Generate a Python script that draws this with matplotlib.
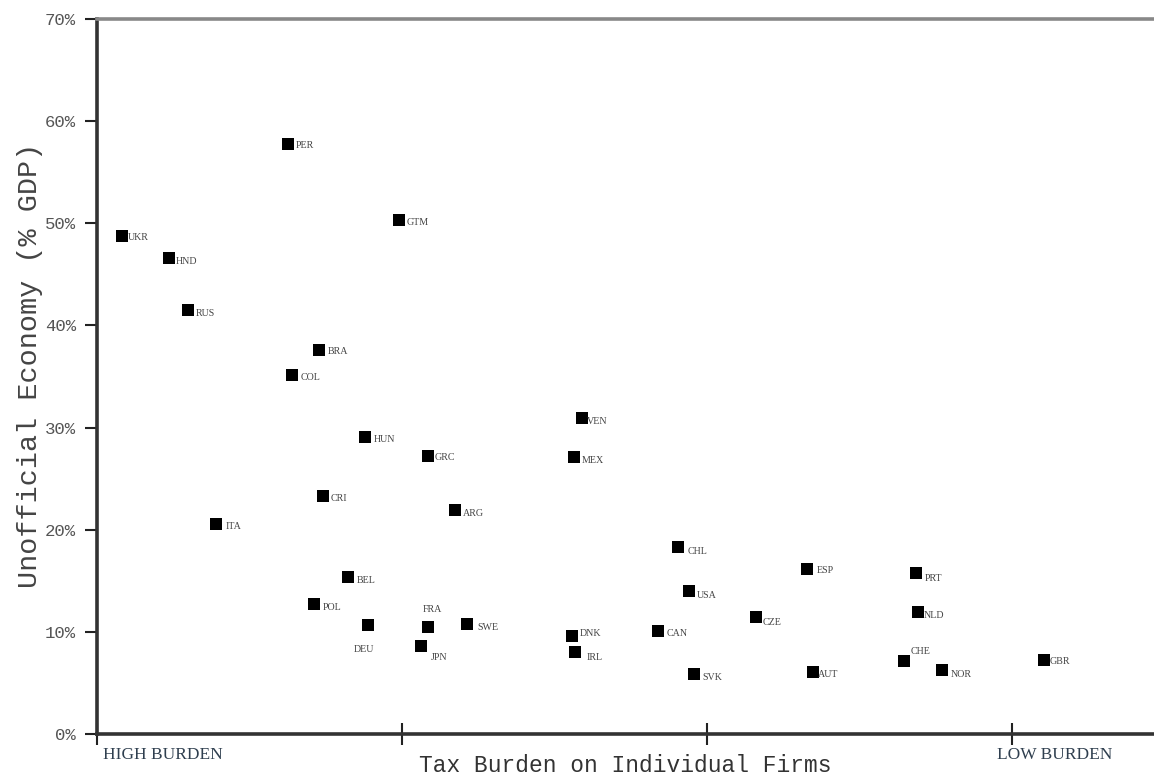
import matplotlib
matplotlib.use("Agg")
import matplotlib.pyplot as plt
from matplotlib.ticker import FuncFormatter

# ---- data (x: relative tax-burden position, 0 = high burden; y: unofficial economy % GDP)
countries = ["UKR", "HND", "RUS", "PER", "GTM", "BRA", "COL", "HUN", "GRC", "VEN",
             "MEX", "CRI", "ARG", "ITA", "CHL", "ESP", "PRT", "BEL", "USA", "NLD",
             "CZE", "POL", "DEU", "FRA", "SWE", "DNK", "CAN", "JPN", "IRL", "SVK",
             "AUT", "CHE", "NOR", "GBR"]
tax_burden = [0.082, 0.236, 0.298, 0.626, 0.990, 0.728, 0.639, 0.879, 1.085, 1.590,
              1.564, 0.741, 1.174, 0.390, 1.905, 2.328, 2.685, 0.823, 1.941, 2.692,
              2.161, 0.711, 0.889, 1.085, 1.213, 1.557, 1.839, 1.062, 1.567, 1.957,
              2.348, 2.646, 2.770, 3.105]
unofficial = [48.8, 46.6, 41.5, 57.8, 50.3, 37.6, 35.1, 29.1, 27.2, 30.9,
              27.1, 23.3, 21.9, 20.6, 18.3, 16.2, 15.8, 15.4, 14.0, 11.9,
              11.5, 12.7, 10.7, 10.5, 10.8, 9.6, 10.1, 8.6, 8.0, 5.9,
              6.1, 7.1, 6.3, 7.2]
y_ticks = [0, 10, 20, 30, 40, 50, 60, 70]
x_ticks = [0, 1, 2, 3]
end_labels = ["HIGH BURDEN", "LOW BURDEN"]

# ---- label placement (pixel offsets from marker centre, and alignment)
label_offsets = {
    "PER": (8, 2), "GTM": (8, 2), "UKR": (6, 2), "HND": (7, 3), "RUS": (8, 3),
    "BRA": (9, 2), "COL": (9, 2), "HUN": (9, 3), "GRC": (7, 1), "VEN": (5, 3),
    "MEX": (8, 3), "CRI": (8, 2), "ARG": (8, 3), "ITA": (10, 3), "CHL": (10, 4),
    "ESP": (10, 2), "PRT": (9, 6), "BEL": (9, 4), "USA": (8, 4), "NLD": (6, 3),
    "CZE": (7, 6), "POL": (9, 3), "SWE": (10, 4), "DNK": (8, -2), "CAN": (9, 3),
    "JPN": (10, 11), "IRL": (12, 5), "SVK": (8, 4), "AUT": (5, 3), "NOR": (9, 5),
    "GBR": (6, 1),
}
centered_labels = {"DEU": (-4, 25), "FRA": (4, -17), "CHE": (17, -10)}

W, H, DPI = 1154, 778, 100
fig = plt.figure(figsize=(W / DPI, H / DPI), dpi=DPI)
ax = fig.add_axes([97 / W, 44 / H, 1 - 97 / W, (734 - 19) / H])

ax.scatter(tax_burden, unofficial, marker="s", s=80, color="black", zorder=3,
           linewidths=0)

px2pt = 72 / DPI
for name, xv, yv in zip(countries, tax_burden, unofficial):
    if name in centered_labels:
        dx, dy = centered_labels[name]
        ha = "center"
    else:
        dx, dy = label_offsets[name]
        ha = "left"
    ax.annotate(name, (xv, yv), xytext=(dx * px2pt, -dy * px2pt),
                textcoords="offset points", ha=ha, va="center",
                fontsize=7.2, family="Liberation Serif", color="#444444")

ax.set_xlim(0, (W - 97) / 305)
ax.set_ylim(0, 70)
ax.set_yticks(y_ticks)
ax.yaxis.set_major_formatter(FuncFormatter(lambda v, p: f"{v:.0f}%"))
ax.set_xticks(x_ticks)
ax.set_xticklabels([])

for lab in ax.get_yticklabels():
    lab.set_family("Liberation Mono")
    lab.set_fontsize(12.5)
    lab.set_color("#555555")

ax.tick_params(axis="y", direction="out", length=9, width=1.5, color="#222222", pad=6)
ax.tick_params(axis="x", direction="inout", length=16, width=1.5, color="#222222")

ax.spines["right"].set_visible(False)
ax.spines["top"].set_color("#888888")
ax.spines["top"].set_linewidth(2.6)
ax.spines["left"].set_color("#333333")
ax.spines["left"].set_linewidth(2.6)
ax.spines["bottom"].set_color("#333333")
ax.spines["bottom"].set_linewidth(2.6)

ax.annotate(end_labels[0], (0, 0), xycoords=("data", "axes fraction"),
            xytext=(6 * px2pt, -21 * px2pt), textcoords="offset points",
            ha="left", va="center", fontsize=12.5, family="Liberation Serif",
            color="#2f3f4f")
ax.annotate(end_labels[1], ((1055 - 97) / 305, 0), xycoords=("data", "axes fraction"),
            xytext=(0, -21 * px2pt), textcoords="offset points",
            ha="center", va="center", fontsize=12.5, family="Liberation Serif",
            color="#2f3f4f")

fig.text(625 / W, 1 - 766 / H, "Tax Burden on Individual Firms", ha="center",
         va="center", fontsize=16.5, family="Liberation Mono", color="#333333")
fig.text(30 / W, 1 - 365 / H, "Unofficial Economy (% GDP)", ha="center",
         va="center", rotation=90, fontsize=20.5, family="Liberation Mono",
         color="#444444")

fig.savefig("out.png", dpi=DPI)
